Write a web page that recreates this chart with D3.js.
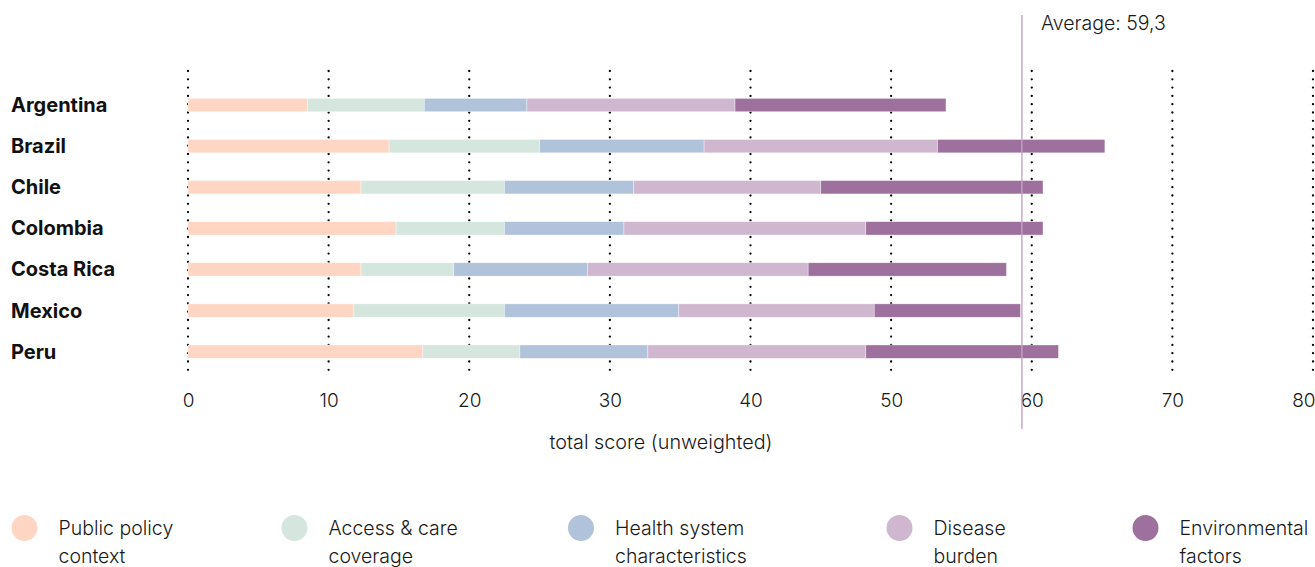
<!DOCTYPE html>
<html>
<head>
<meta charset="utf-8">
<script src="https://cdn.jsdelivr.net/npm/d3@7"></script>
<style>
    html, body { margin: 0; padding: 0; background: #fff; }
    #chart-area { width: 1315px; height: 567px; }
    text { font-family: Inter, "Noto Sans", sans-serif; fill: #1a1a1a; }
</style>
</head>
<body>
<div id="chart-area"></div>
<script>
// data
var countries = ["Argentina", "Brazil", "Chile", "Colombia", "Costa Rica", "Mexico", "Peru"];
var publicPolicy  = [8.5, 14.3, 12.3, 14.8, 12.3, 11.8, 16.7];
var accessCare    = [8.3, 10.7, 10.2, 7.7, 6.6, 10.7, 6.9];
var healthSystem  = [7.3, 11.7, 9.2, 8.5, 9.5, 12.4, 9.1];
var diseaseBurden = [14.8, 16.6, 13.3, 17.2, 15.7, 13.9, 15.5];
var environmental = [15.0, 11.9, 15.8, 12.6, 14.1, 10.4, 13.7];
var seriesKeys = ["policy", "access", "health", "disease", "env"];
var seriesLabels = [["Public policy", "context"], ["Access & care", "coverage"],
    ["Health system", "characteristics"], ["Disease", "burden"], ["Environmental", "factors"]];
var xTicks = [0, 10, 20, 30, 40, 50, 60, 70, 80];
var average = 59.3;
var averageLabel = "Average: 59,3";
var axisTitle = "total score (unweighted)";

var colors = ["#ffd6c4", "#d4e6de", "#b0c3db", "#cfb7cf", "#9e709d"];

function init() {
    var svgWidth = 1315;
    var svgHeight = 567;

    var svg = d3.select("#chart-area")
        .append("svg")
        .attr("width", svgWidth)
        .attr("height", svgHeight);

    var table = countries.map(function(c, i) {
        return {country: c, policy: publicPolicy[i], access: accessCare[i],
            health: healthSystem[i], disease: diseaseBurden[i], env: environmental[i]};
    });
    var stacked = d3.stack().keys(seriesKeys)(table);

    var xScale = d3.scaleLinear().domain([0, 80]).range([188, 1313]);
    var yScale = d3.scaleBand()
        .domain(countries)
        .range([84.5, 372.2])
        .paddingInner(0.675)
        .paddingOuter(0.3375);

    // dotted grid
    svg.append("g")
        .selectAll("line")
        .data(xTicks)
        .enter()
        .append("line")
        .attr("x1", d => xScale(d))
        .attr("x2", d => xScale(d))
        .attr("y1", 71)
        .attr("y2", 376)
        .style("stroke", "#000")
        .style("stroke-width", 2.3)
        .style("stroke-linecap", "round")
        .style("stroke-dasharray", "0,8.3");

    // stacked bars
    svg.append("g")
        .selectAll("g")
        .data(stacked)
        .enter().append("g")
        .attr("fill", (d, i) => colors[i])
        .selectAll("rect")
        .data(d => d)
        .enter()
        .append("rect")
        .attr("x", d => xScale(d[0]))
        .attr("y", d => yScale(d.data.country))
        .attr("width", d => xScale(d[1]) - xScale(d[0]))
        .attr("height", yScale.bandwidth())
        .style("stroke", "#fff")
        .style("stroke-opacity", 0.6)
        .style("stroke-width", 0.6);

    // country labels
    svg.append("g")
        .selectAll("text")
        .data(countries)
        .enter()
        .append("text")
        .attr("x", 11)
        .attr("y", d => yScale(d) + yScale.bandwidth() / 2 + 7)
        .attr("font-size", "20px")
        .attr("font-weight", 700)
        .style("fill", "#111")
        .text(d => d);

    // x axis labels
    var botAxis = d3.axisBottom(xScale).tickValues(xTicks).tickSize(0).tickPadding(0);
    var xAxis = svg.append("g")
        .attr("transform", "translate(0,393)")
        .call(botAxis);
    xAxis.select(".domain").remove();
    xAxis.selectAll("text")
        .attr("dy", "0.71em")
        .style("font-family", "Inter, 'Noto Sans', sans-serif")
        .style("font-size", "19px")
        .style("font-weight", 300)
        .style("fill", "#1a1a1a");
    // keep the last label inside the frame
    xAxis.selectAll(".tick")
        .filter(d => d === 80)
        .select("text")
        .attr("text-anchor", "end")
        .attr("x", 2);

    svg.append("text")
        .attr("x", 661)
        .attr("y", 449)
        .attr("text-anchor", "middle")
        .attr("font-size", "19.8px")
        .attr("font-weight", 300)
        .text(axisTitle);

    // average marker
    svg.append("line")
        .attr("x1", xScale(average))
        .attr("x2", xScale(average))
        .attr("y1", 15)
        .attr("y2", 429)
        .style("stroke", "#c6a3c6")
        .style("stroke-width", 1.4);

    svg.append("text")
        .attr("x", xScale(average) + 19)
        .attr("y", 30)
        .attr("font-size", "19.5px")
        .attr("font-weight", 300)
        .text(averageLabel);

    // legend
    var legendX = [24.5, 294.5, 581, 899.5, 1145.5];
    var legend = svg.append("g")
        .selectAll("g")
        .data(seriesLabels)
        .enter()
        .append("g")
        .attr("transform", (d, i) => "translate(" + legendX[i] + ",528)");

    legend.append("circle")
        .attr("r", 13)
        .attr("fill", (d, i) => colors[i]);

    legend.append("text")
        .attr("x", 34)
        .attr("y", 7)
        .attr("font-size", "19.5px")
        .attr("font-weight", 300)
        .selectAll("tspan")
        .data(d => d)
        .enter()
        .append("tspan")
        .attr("x", 34)
        .attr("dy", (d, i) => i === 0 ? 0 : 28)
        .text(d => d);
}

window.addEventListener('load', init, false)
</script>
</body>
</html>
